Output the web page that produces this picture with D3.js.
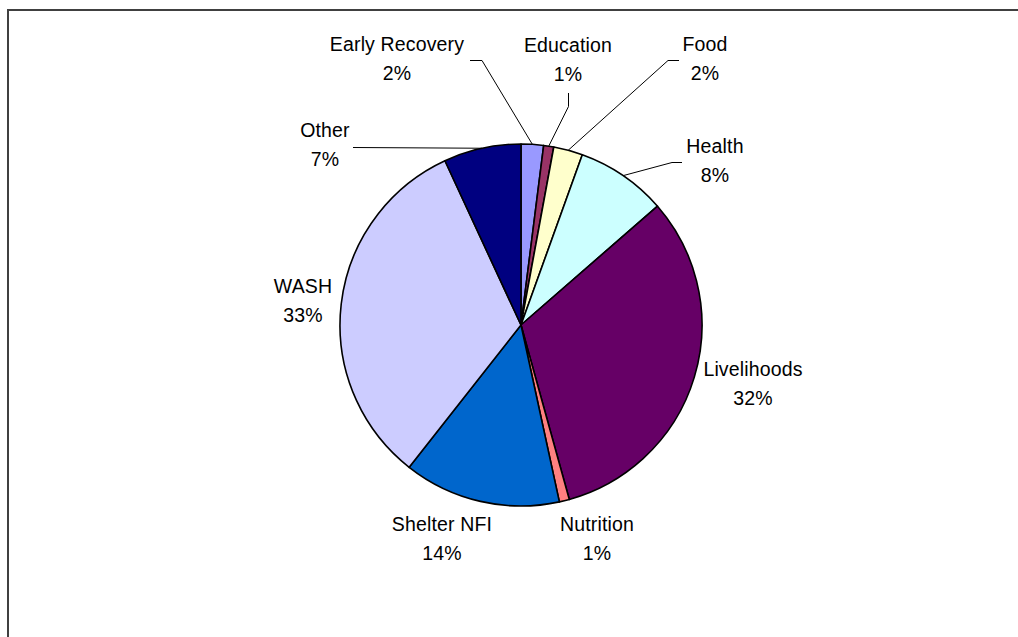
<!DOCTYPE html>
<html>
<head>
<meta charset="utf-8">
<script src="https://cdn.jsdelivr.net/npm/d3@7"></script>
<style>
  html, body { margin: 0; padding: 0; background: #fff; overflow: hidden; }
  svg { display: block; }
  text { font-family: "Liberation Sans", Arial, sans-serif; font-size: 19.5px; fill: #000; letter-spacing: 0.15px; }
</style>
</head>
<body>
<svg id="chart" width="1018" height="637"></svg>
<script>
// ---- data ----
const categories = ["Early Recovery", "Education", "Food", "Health", "Livelihoods", "Nutrition", "Shelter NFI", "WASH", "Other"];
const values = [2.0, 0.9, 2.6, 8.1, 32.1, 0.9, 14.0, 32.5, 6.9];
const percentLabels = ["2%", "1%", "2%", "8%", "32%", "1%", "14%", "33%", "7%"];
const colors = ["#9999FF", "#993366", "#FFFFCC", "#CCFFFF", "#660066", "#FF8080", "#0066CC", "#CCCCFF", "#000080"];

// ---- layout (label placement, not data) ----
const labelLayout = {
  "Early Recovery": { x: 397, y: 51, leader: [[470, 60.5], [482, 60.5]] },
  "Education":      { x: 568, y: 52, leader: [[568.5, 93], [568.5, 106.5]] },
  "Food":           { x: 705, y: 51, leader: [[679, 60.5], [668, 60.5]] },
  "Health":         { x: 715, y: 153, leader: [[682, 162.5], [672, 162.5]] },
  "Livelihoods":    { x: 753, y: 376 },
  "Nutrition":      { x: 597, y: 531 },
  "Shelter NFI":    { x: 442, y: 531 },
  "WASH":           { x: 303, y: 293 },
  "Other":          { x: 325, y: 137, leader: [[353, 147.5]] }
};
const lineGap = 28.5;

const svg = d3.select("#chart");
const W = 1018, H = 637;
const cx = 521, cy = 325, R = 181;

// outer frame
svg.append("rect")
  .attr("x", 8).attr("y", 10)
  .attr("width", W + 20).attr("height", H + 20)
  .attr("fill", "#fff")
  .attr("stroke", "#404040")
  .attr("stroke-width", 2);

const pie = d3.pie().sort(null).value(d => d.value).startAngle(0).endAngle(2 * Math.PI);
const data = categories.map((c, i) => ({ name: c, value: values[i], label: percentLabels[i], color: colors[i] }));
const arcs = pie(data);

const arc = d3.arc().innerRadius(0).outerRadius(R);

const g = svg.append("g").attr("transform", `translate(${cx},${cy})`);

g.selectAll("path.slice")
  .data(arcs)
  .enter().append("path")
  .attr("class", "slice")
  .attr("d", arc)
  .attr("fill", d => d.data.color)
  .attr("stroke", "#000")
  .attr("stroke-width", 1.6)
  .attr("stroke-linejoin", "round");

// leader lines
const line = d3.line();
arcs.forEach(a => {
  const lay = labelLayout[a.data.name];
  if (!lay.leader) return;
  const mid = (a.startAngle + a.endAngle) / 2;
  const end = [cx + R * Math.sin(mid), cy - R * Math.cos(mid)];
  const pts = lay.leader.concat([end]);
  svg.append("path")
    .attr("d", line(pts))
    .attr("fill", "none")
    .attr("stroke", "#000")
    .attr("stroke-width", 1);
});

// labels
arcs.forEach(a => {
  const lay = labelLayout[a.data.name];
  const t = svg.append("text").attr("text-anchor", "middle");
  t.append("tspan").attr("x", lay.x).attr("y", lay.y).text(a.data.name);
  t.append("tspan").attr("x", lay.x).attr("y", lay.y + lineGap).text(a.data.label);
});
</script>
</body>
</html>
